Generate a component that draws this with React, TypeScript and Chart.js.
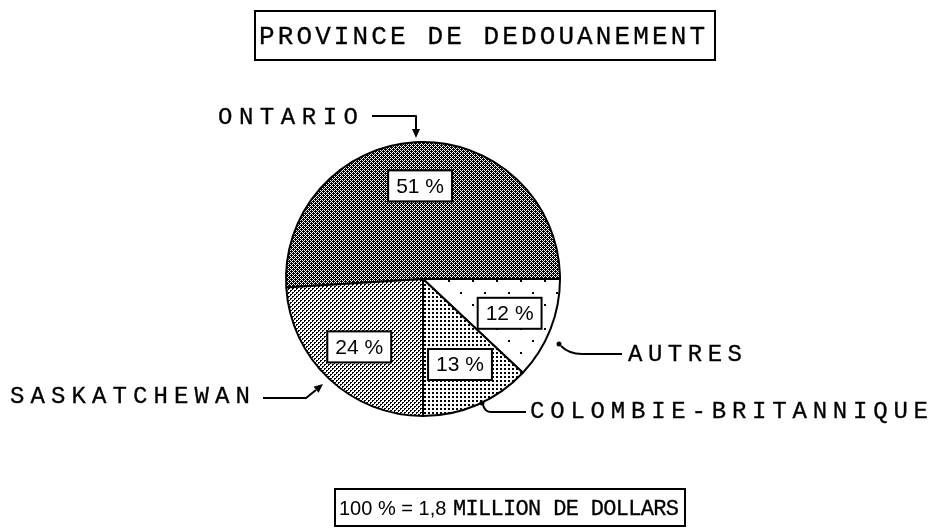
import React, { useEffect, useRef } from 'react';
import { Chart, registerables } from 'chart.js';

Chart.register(...registerables);

const chartTitle = 'PROVINCE DE DEDOUANEMENT';
const categories = ['ONTARIO', 'AUTRES', 'COLOMBIE-BRITANNIQUE', 'SASKATCHEWAN'];
const shares = [51, 12, 13, 24];
const shareLabels = ['51 %', '12 %', '13 %', '24 %'];
const totalPrefix = '100 % = 1,8';
const totalSuffix = 'MILLION DE DOLLARS';

const TYPE = '"Liberation Mono", "DejaVu Sans Mono", monospace';
const SANS = '"Liberation Sans", Arial, sans-serif';

function makePattern(w: number, h: number, paint: (c: CanvasRenderingContext2D) => void): CanvasPattern | string {
  const cv = document.createElement('canvas');
  cv.width = w;
  cv.height = h;
  const c = cv.getContext('2d')!;
  paint(c);
  const ctx = document.createElement('canvas').getContext('2d')!;
  return ctx.createPattern(cv, 'repeat') || '#888';
}

function buildPatterns() {
  const ontario = makePattern(4, 4, (c) => {
    c.fillStyle = '#000';
    c.fillRect(0, 0, 4, 4);
    c.fillStyle = '#fff';
    [[0, 0], [1, 3], [2, 2], [3, 1], [2, 0], [0, 2]].forEach(([x, y]) => c.fillRect(x, y, 1, 1));
  });
  const autres = makePattern(24, 24, (c) => {
    c.fillStyle = '#fff';
    c.fillRect(0, 0, 24, 24);
    c.fillStyle = '#000';
    c.fillRect(4, 4, 2, 2);
    c.fillRect(16, 16, 2, 2);
  });
  const colombie = makePattern(4, 4, (c) => {
    c.fillStyle = '#fff';
    c.fillRect(0, 0, 4, 4);
    c.fillStyle = '#000';
    c.fillRect(0, 0, 2, 2);
  });
  const sask = makePattern(4, 4, (c) => {
    c.fillStyle = '#fff';
    c.fillRect(0, 0, 4, 4);
    c.fillStyle = '#000';
    [[0, 0], [1, 0], [0, 1], [2, 2], [3, 2], [2, 3]].forEach(([x, y]) => c.fillRect(x, y, 1, 1));
  });
  return [ontario, autres, colombie, sask];
}

// draw text left-aligned at x, stretched with letter spacing to a given width (slightly emboldened)
function fitText(ctx: CanvasRenderingContext2D, text: string, x: number, y: number, width: number) {
  const anyCtx = ctx as any;
  const natural = ctx.measureText(text).width;
  const n = [...text].length;
  const spacing = n > 1 ? (width - natural) / (n - 1) : 0;
  ctx.lineWidth = 0.3;
  if ('letterSpacing' in anyCtx) {
    anyCtx.letterSpacing = spacing + 'px';
    ctx.fillText(text, x, y);
    ctx.strokeText(text, x, y);
    anyCtx.letterSpacing = '0px';
    return;
  }
  let cx = x;
  for (const ch of text) {
    ctx.fillText(ch, cx, y);
    ctx.strokeText(ch, cx, y);
    cx += ctx.measureText(ch).width + spacing;
  }
}

function arrowHead(ctx: CanvasRenderingContext2D, fx: number, fy: number, tx: number, ty: number, len = 9, half = 4) {
  const dx = tx - fx;
  const dy = ty - fy;
  const d = Math.hypot(dx, dy);
  const ux = dx / d;
  const uy = dy / d;
  const bx = tx - ux * len;
  const by = ty - uy * len;
  ctx.beginPath();
  ctx.moveTo(tx, ty);
  ctx.lineTo(bx - uy * half, by + ux * half);
  ctx.lineTo(bx + uy * half, by - ux * half);
  ctx.closePath();
  ctx.fill();
}

const decor = {
  id: 'decor',
  afterDraw(chart: any) {
    const ctx: CanvasRenderingContext2D = chart.ctx;
    ctx.save();
    ctx.fillStyle = '#000';
    ctx.strokeStyle = '#000';
    ctx.textAlign = 'left';
    ctx.textBaseline = 'alphabetic';

    // Title box
    ctx.lineWidth = 2;
    ctx.strokeRect(255, 11, 460, 49);
    ctx.font = `26px ${TYPE}`;
    fitText(ctx, chartTitle, 259, 44, 446);

    // Footer box
    ctx.lineWidth = 2;
    ctx.strokeRect(335, 489, 350, 37);
    ctx.font = `20px ${SANS}`;
    ctx.fillText(totalPrefix, 339, 515);
    ctx.font = `22px ${TYPE}`;
    fitText(ctx, totalSuffix, 453, 515, 226);

    // Percentage boxes
    const meta = chart.getDatasetMeta(0);
    meta.data.forEach((arc: any, i: number) => {
      const { x, y, startAngle, endAngle, outerRadius } = arc.getProps(['x', 'y', 'startAngle', 'endAngle', 'outerRadius'], true);
      const mid = (startAngle + endAngle) / 2;
      const r = outerRadius * 0.68;
      const px = x + Math.cos(mid) * r;
      const py = y + Math.sin(mid) * r;
      ctx.font = `21px ${SANS}`;
      const tw = ctx.measureText(shareLabels[i]).width;
      const bw = tw + 16;
      const bh = 31;
      ctx.fillStyle = '#fff';
      ctx.fillRect(px - bw / 2, py - bh / 2, bw, bh);
      ctx.lineWidth = 2;
      ctx.strokeRect(px - bw / 2, py - bh / 2, bw, bh);
      ctx.fillStyle = '#000';
      ctx.textAlign = 'center';
      ctx.textBaseline = 'middle';
      ctx.fillText(shareLabels[i], px, py + 1);
    });

    // Outer labels
    ctx.textAlign = 'left';
    ctx.textBaseline = 'alphabetic';
    ctx.font = `24px ${TYPE}`;
    fitText(ctx, categories[0], 218, 124, 140);
    fitText(ctx, categories[3], 10, 403, 240);
    fitText(ctx, categories[1], 628, 361, 114);
    fitText(ctx, categories[2], 530, 418, 398);

    // Arrows
    ctx.lineWidth = 2;
    ctx.lineJoin = 'round';
    // Ontario
    ctx.beginPath();
    ctx.moveTo(372, 116);
    ctx.lineTo(416, 116);
    ctx.lineTo(416, 130);
    ctx.stroke();
    arrowHead(ctx, 416, 120, 416, 138);
    // Saskatchewan
    ctx.beginPath();
    ctx.moveTo(263, 398);
    ctx.lineTo(306, 398);
    ctx.lineTo(316, 390);
    ctx.stroke();
    arrowHead(ctx, 306, 398, 323, 384);
    // Autres
    ctx.beginPath();
    ctx.moveTo(622, 354);
    ctx.lineTo(582, 354);
    ctx.quadraticCurveTo(569, 354, 561, 346);
    ctx.stroke();
    ctx.beginPath();
    ctx.arc(559, 344, 2.5, 0, Math.PI * 2);
    ctx.fill();
    // Colombie
    ctx.beginPath();
    ctx.moveTo(526, 412);
    ctx.lineTo(491, 412);
    ctx.quadraticCurveTo(485, 412, 483, 405);
    ctx.stroke();
    ctx.beginPath();
    ctx.arc(482, 403, 2.5, 0, Math.PI * 2);
    ctx.fill();

    ctx.restore();
  },
};

export default function App() {
  const ref = useRef<HTMLCanvasElement>(null);
  useEffect(() => {
    if (!ref.current) return;
    const chart = new Chart(ref.current, {
      type: 'pie',
      data: {
        labels: categories,
        datasets: [
          {
            data: shares,
            backgroundColor: buildPatterns() as any,
            borderColor: '#000',
            borderWidth: 2,
          },
        ],
      },
      options: {
        animation: false,
        responsive: true,
        maintainAspectRatio: false,
        rotation: 450 - shares[0] * 3.6,
        events: [],
        layout: { padding: { left: 285, right: 374, top: 141, bottom: 114 } },
        plugins: {
          legend: { display: false },
          tooltip: { enabled: false },
          title: { display: false },
        },
      },
      plugins: [decor],
    });
    return () => chart.destroy();
  }, []);
  return (
    <div style={{ position: 'absolute', left: 0, top: 0, width: 935, height: 531, background: '#fff' }}>
      <canvas ref={ref} />
    </div>
  );
}
